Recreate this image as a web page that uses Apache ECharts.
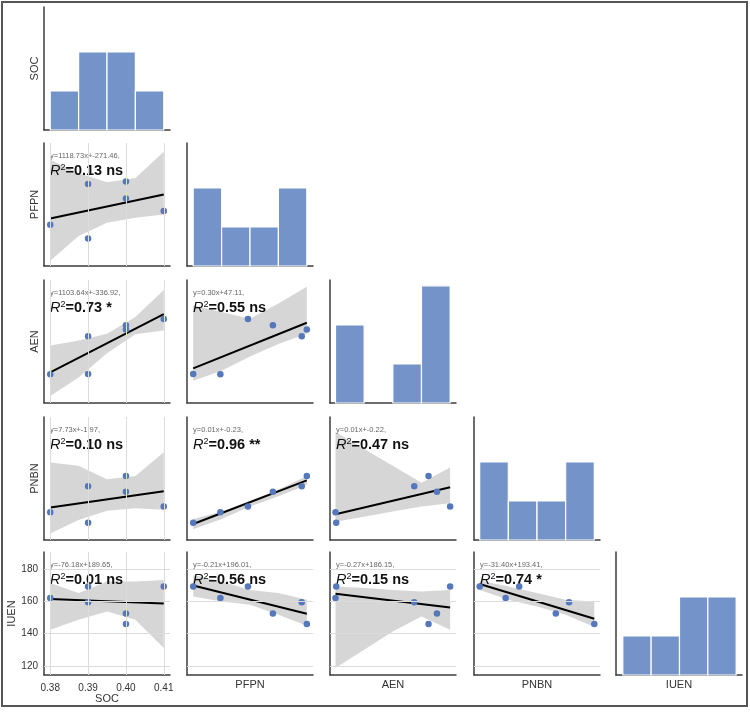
<!DOCTYPE html>
<html>
<head>
<meta charset="utf-8">
<script src="https://cdn.jsdelivr.net/npm/echarts@6/dist/echarts.min.js"></script>
<style>
html, body { margin: 0; padding: 0; background: #fff; }
#chart { width: 750px; height: 712px; }
</style>
</head>
<body>
<div id="chart"></div>
<script>
// variable order of the pair plot
const varNames = ['SOC', 'PFPN', 'AEN', 'PNBN', 'IUEN'];

// six samples
const soc  = [0.38, 0.39, 0.39, 0.40, 0.40, 0.41];
const pfpn = [144.3, 125.0, 202.1, 181.6, 205.7, 163.9];
const aen  = [81.2, 81.4, 102.7, 108.9, 106.6, 112.5];
const pnbn = [0.894, 0.739, 1.273, 1.194, 1.424, 0.975];
const iuen = [162.1, 169.3, 159.5, 152.6, 146.0, 169.3];

// histogram counts (4 bins from min to max)
const socCounts  = [1, 2, 2, 1];
const pfpnCounts = [2, 1, 1, 2];
const aenCounts  = [2, 0, 1, 3];
const pnbnCounts = [2, 1, 1, 2];
const iuenCounts = [1, 1, 2, 2];

// tick labels
const socTicks  = [0.38, 0.39, 0.40, 0.41];
const iuenTicks = [120, 140, 160, 180];

// lower triangle panels [row, col]
const fitPanels = [[1, 0], [2, 0], [2, 1], [3, 0], [3, 1], [3, 2], [4, 0], [4, 1], [4, 2], [4, 3]];
const eqLabels = ['y=1118.73x+-271.46,', 'y=1103.64x+-336.92,', 'y=0.30x+47.11,', 'y=7.73x+-1.97,', 'y=0.01x+-0.23,',
                  'y=0.01x+-0.22,', 'y=-76.18x+189.65,', 'y=-0.21x+196.01,', 'y=-0.27x+186.15,', 'y=-31.40x+193.41,'];
const r2Labels = ['0.13 ns', '0.73 *', '0.55 ns', '0.10 ns', '0.96 **', '0.47 ns', '0.01 ns', '0.56 ns', '0.15 ns', '0.74 *'];
// fitted line value at min x and at max x
const fitEnds = [[153.4, 187.1], [82.2, 115.3], [84.5, 110.4], [0.962, 1.201], [0.720, 1.360],
                 [0.863, 1.260], [161.5, 158.8], [169.9, 152.4], [164.8, 156.3], [170.8, 149.3]];
// confidence band, read at 5 even steps from min x to max x
const bandLow = [
  [93.6, 128.6, 147.4, 154.4, 159.0],
  [68.9, 79.4, 93.1, 103.8, 106.0],
  [77.5, 83.2, 91.2, 98.4, 104.2],
  [0.580, 0.779, 0.913, 0.952, 0.928],
  [0.645, 0.794, 0.977, 1.126, 1.290],
  [0.754, 0.828, 0.903, 0.977, 1.026],
  [142.5, 148.7, 153.8, 148.7, 131.1],
  [163.1, 160.0, 158.0, 151.8, 145.0],
  [118.8, 130.1, 141.4, 150.7, 142.5],
  [167.2, 161.1, 156.9, 151.8, 144.1]
];
const bandHigh = [
  [236.1, 217.5, 204.3, 210.5, 247.7],
  [97.5, 100.3, 104.2, 113.6, 128.9],
  [120.3, 116.5, 112.7, 121.3, 130.8],
  [1.622, 1.573, 1.375, 1.424, 1.771],
  [0.794, 0.903, 1.062, 1.226, 1.424],
  [2.069, 1.821, 1.573, 1.324, 1.547],
  [171.4, 165.2, 172.4, 172.4, 173.4],
  [176.5, 172.4, 167.2, 165.2, 161.1],
  [169.3, 168.3, 167.2, 166.2, 167.2],
  [173.0, 169.3, 165.2, 161.1, 160.0]
];

// axis ranges
const colMin = [0.37835, 120.6, 79.7, 0.705, 144.6];
const colMax = [0.41165, 210.1, 114.1, 1.458, 170.5];
const rowMin = [0, 86.2, 64.9, 0.486, 114.4];
const rowMax = [3.15, 259.9, 134.6, 2.288, 190.7];
const histMax = 3.15;

// layout
const colLeft = [44, 187, 330, 474, 616];
const rowTop = [7, 143, 280, 417, 552];
const cellW = 126, cellH = 123;

const values = [soc, pfpn, aen, pnbn, iuen];
const counts = [socCounts, pfpnCounts, aenCounts, pnbnCounts, iuenCounts];

const FONT = '"Liberation Sans", Arial, sans-serif';
const axisColor = '#3c3c3c';

const option = {
    animation: false,
    backgroundColor: '#fff',
    textStyle: { fontFamily: FONT },
    grid: [], xAxis: [], yAxis: [], series: [],
    graphic: [{
        type: 'rect', silent: true,
        shape: { x: 2, y: 2, width: 745, height: 704 },
        style: { fill: 'none', stroke: '#555', lineWidth: 2 }
    }]
};

function addAxes(r, c) {
    const k = option.grid.length;
    option.grid.push({ left: colLeft[c], top: rowTop[r], width: cellW, height: cellH });
    const diag = r === c;
    option.xAxis.push({
        type: 'value', gridIndex: k, min: colMin[c], max: colMax[c],
        axisLine: { show: true, onZero: false, lineStyle: { color: axisColor, width: 1.5 } },
        axisTick: { show: false },
        splitLine: { show: false },
        axisLabel: (r === 4 && c === 0)
            ? { show: true, customValues: socTicks, formatter: v => v.toFixed(2), color: '#333', fontSize: 10, margin: 8 }
            : { show: false },
        name: r === 4 ? varNames[c] : '',
        nameLocation: 'middle', nameGap: c === 0 ? 18 : 4,
        nameTextStyle: { color: '#333', fontSize: 11 }
    });
    option.yAxis.push({
        type: 'value', gridIndex: k,
        min: diag ? 0 : rowMin[r], max: diag ? histMax : rowMax[r],
        axisLine: { show: true, onZero: false, lineStyle: { color: axisColor, width: 1.5 } },
        axisTick: { show: false },
        splitLine: { show: false },
        axisLabel: (r === 4 && c === 0)
            ? { show: true, customValues: iuenTicks, color: '#333', fontSize: 10, margin: 6 }
            : { show: false },
        name: c === 0 ? varNames[r] : '',
        nameLocation: 'middle', nameGap: r === 4 ? 23 : 4,
        nameTextStyle: { color: '#333', fontSize: 11 }
    });
    return k;
}

// histograms on the diagonal
for (let i = 0; i < 5; i++) {
    const k = addAxes(i, i);
    const lo = Math.min(...values[i]), hi = Math.max(...values[i]);
    const step = (hi - lo) / 4;
    const bins = counts[i].map((n, j) => [lo + j * step, lo + (j + 1) * step, n]);
    option.series.push({
        type: 'custom', xAxisIndex: k, yAxisIndex: k,
        data: bins,
        encode: { x: [0, 1], y: 2 },
        renderItem: function (params, api) {
            if (!api.value(2)) return null;
            const p0 = api.coord([api.value(0), 0]);
            const p1 = api.coord([api.value(1), api.value(2)]);
            return {
                type: 'rect',
                shape: { x: p0[0], y: p1[1], width: p1[0] - p0[0], height: p0[1] - p1[1] },
                style: { fill: '#7393c9', stroke: '#fff', lineWidth: 1.2 }
            };
        }
    });
}

// scatter panels with fit and band
fitPanels.forEach(([r, c], p) => {
    const k = addAxes(r, c);
    const xs = values[c], ys = values[r];
    const xMin = Math.min(...xs), xMax = Math.max(...xs);
    const n = bandLow[p].length;
    const band = bandLow[p].map((v, j) => [xMin + (xMax - xMin) * j / (n - 1), v, bandHigh[p][j]]);

    const gridLines = [];
    if (c === 0) socTicks.forEach(t => gridLines.push({ xAxis: t }));
    if (r === 4) iuenTicks.forEach(t => gridLines.push({ yAxis: t }));

    option.series.push({
        type: 'custom', xAxisIndex: k, yAxisIndex: k, z: 1,
        data: band,
        encode: { x: 0, y: [1, 2] },
        renderItem: function (params, api) {
            if (params.dataIndex > 0) return null;
            const pts = [];
            band.forEach(d => pts.push(api.coord([d[0], d[2]])));
            band.slice().reverse().forEach(d => pts.push(api.coord([d[0], d[1]])));
            return { type: 'polygon', shape: { points: pts }, style: { fill: 'rgba(0,0,0,0.16)' } };
        },
        markLine: {
            silent: true, symbol: 'none', label: { show: false },
            lineStyle: { color: '#dcdcdc', width: 1, type: 'solid' },
            data: gridLines
        }
    });
    option.series.push({
        type: 'line', xAxisIndex: k, yAxisIndex: k, z: 3,
        data: [[xMin, fitEnds[p][0]], [xMax, fitEnds[p][1]]],
        symbol: 'none', lineStyle: { color: '#000', width: 2 }
    });
    option.series.push({
        type: 'scatter', xAxisIndex: k, yAxisIndex: k, z: 4,
        data: xs.map((x, j) => [x, ys[j]]),
        symbolSize: 6.5, itemStyle: { color: '#5577bb', opacity: 1 }
    });

    option.graphic.push({
        type: 'text', silent: true, x: colLeft[c] + 6, y: rowTop[r] + 9,
        style: { text: eqLabels[p], fontSize: 7.5, fill: '#666', fontFamily: FONT }
    });
    option.graphic.push({
        type: 'text', silent: true, x: colLeft[c] + 6, y: rowTop[r] + 20,
        style: {
            text: '{r|R}{s|2}{v|=' + r2Labels[p] + '}',
            fontFamily: FONT,
            rich: {
                r: { fontSize: 14.5, fontStyle: 'italic', fill: '#111', fontFamily: FONT },
                s: { fontSize: 9, fill: '#111', verticalAlign: 'top', fontFamily: FONT },
                v: { fontSize: 14.5, fontWeight: 'bold', fill: '#111', fontFamily: FONT }
            }
        }
    });
});

const chart = echarts.init(document.getElementById('chart'));
chart.setOption(option);
</script>
</body>
</html>
